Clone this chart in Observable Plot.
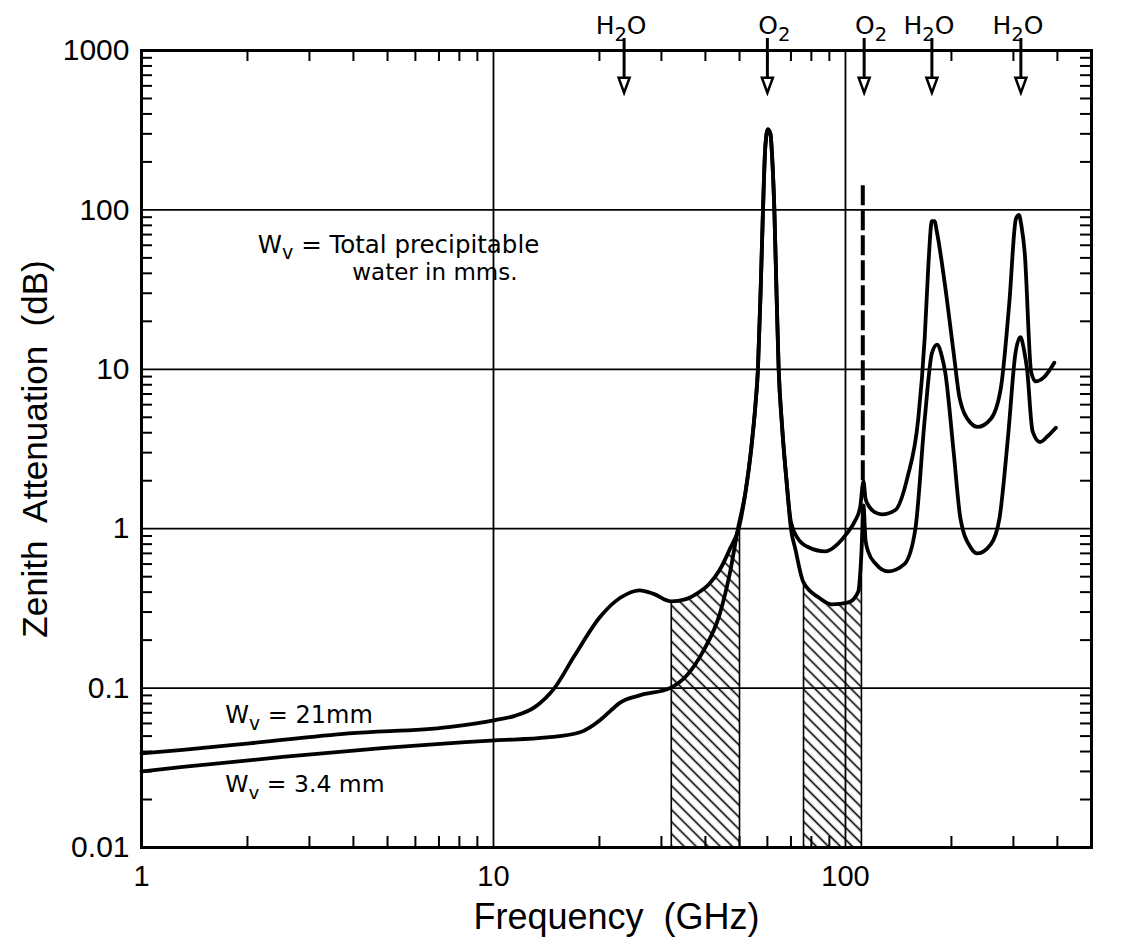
<!DOCTYPE html>
<html>
<head>
<meta charset="utf-8">
<script src="https://cdn.jsdelivr.net/npm/d3@7"></script>
<script src="https://cdn.jsdelivr.net/npm/@observablehq/plot@0.6"></script>
<style>
  body { margin: 0; background: #fff; }
  #chart svg { display: block; }
</style>
</head>
<body>
<div id="chart"></div>
<script>
// ---- Data ----
// W_v = 21 mm curve (frequency GHz, zenith attenuation dB)
const freqWet = [1, 1.31, 2.03, 3.88, 7.44, 10.1, 11.5, 13.1, 14.9, 17, 20.1, 22.2, 24, 26, 28.5, 32, 35, 37.7, 41, 43.9, 47, 50, 52, 54, 55.5, 56.4, 57.5, 58.3, 59.2, 60.2, 61.2, 62, 62.8, 63.7, 64.6, 66, 68, 70, 73, 78, 87.8, 95, 100.4, 106, 110, 112.5, 114, 116, 121, 127, 138.6, 150, 161, 168, 172, 176, 179, 182, 192, 203, 211, 227, 237, 259, 277, 292, 305, 311, 316, 323, 337, 347, 366, 392];
const attWet  = [0.039, 0.041, 0.045, 0.052, 0.057, 0.063, 0.067, 0.076, 0.1, 0.16, 0.28, 0.35, 0.39, 0.41, 0.39, 0.35, 0.36, 0.39, 0.45, 0.55, 0.75, 1.05, 1.7, 3.2, 6, 10, 35, 100, 250, 320, 300, 200, 100, 30, 10, 4.5, 2, 1.1, 0.88, 0.77, 0.72, 0.8, 0.92, 1.1, 1.35, 1.98, 1.55, 1.41, 1.27, 1.23, 1.31, 2.1, 4.9, 16, 45, 85, 85, 72, 33, 12.6, 6.6, 4.6, 4.35, 4.9, 7.9, 26, 88, 93, 80, 54, 9.6, 8.4, 8.9, 11];

// W_v = 3.4 mm curve
const freqDry = [1, 1.31, 2.52, 4.82, 10.1, 14.2, 17.7, 20.1, 21.5, 22.9, 26, 31.7, 35.4, 39.4, 43.9, 46.9, 49.5, 52, 54, 55.5, 56.4, 57.5, 58.3, 59.2, 60.2, 61.2, 62, 62.8, 63.7, 64.6, 66, 68, 70, 72, 76, 84, 91.6, 102, 108.6, 111, 112.5, 114, 116, 122, 132, 147, 158, 168, 176, 182, 188, 192, 203, 212, 227, 237, 259, 274, 290, 304, 314, 322, 328, 340, 357, 375, 396];
const attDry  = [0.03, 0.032, 0.037, 0.042, 0.047, 0.049, 0.053, 0.063, 0.072, 0.081, 0.09, 0.1, 0.12, 0.17, 0.29, 0.52, 1.0, 1.7, 3.2, 6, 10, 35, 100, 250, 320, 300, 200, 100, 30, 10, 4.5, 2, 1.0, 0.75, 0.46, 0.37, 0.335, 0.345, 0.40, 0.7, 1.4, 0.85, 0.72, 0.6, 0.54, 0.6, 1.0, 4.9, 12.6, 14.3, 12, 9.6, 3.0, 1.17, 0.76, 0.70, 0.8, 1.17, 3.9, 12.6, 15.9, 13, 10, 4.1, 3.5, 3.8, 4.3];

// Hatched windows: start/end frequency and the curve bounding them
const windowStart = [32, 76];
const windowEnd   = [50, 111];
const windowCurve = ["wet", "dry"];

// Absorption lines marked at the top
const lineFreqs  = [23.5, 60, 113, 176, 315];
const lineLabels = ["H_2O", "O_2", "O_2", "H_2O", "H_2O"];

// Narrow O2 line drawn dashed (frequency, dB extent)
const narrowLineFreq = [112];
const narrowLineLow = 2.0, narrowLineHigh = 145;

// Axes
const xTicks = [1, 10, 100, 500];
const xTickLabels = ["1", "10", "100", "500"];
const yTicks = [0.01, 0.1, 1, 10, 100, 1000];
const yTickLabels = ["0.01", "0.1", "1", "10", "100", "1000"];
const xGrid = [10, 100];
const yGrid = [0.1, 1, 10, 100];

// Text
const seriesLabels = ["W_v = 21mm", "W_v = 3.4 mm"];
const noteLines = ["W_v = Total precipitable", "water in mms."];
const xTitle = "Frequency\u00a0 (GHz)";
const yTitle = "Zenith\u00a0 Attenuation\u00a0 (dB)";

// ---- Build tables ----
const wet = freqWet.map((f, i) => ({f, v: attWet[i]}));
const dry = freqDry.map((f, i) => ({f, v: attDry[i]}));
const curves = {wet, dry};
const windowsData = windowStart.map((a, i) => {
  const c = curves[windowCurve[i]];
  return c.filter(d => d.f >= a && d.f <= windowEnd[i]);
});
const windowEdges = windowsData.flatMap(w => [w[0], w[w.length - 1]]);
const lines = lineFreqs.map((f, i) => ({f, label: lineLabels[i]}));

const minorX = [];
for (const d of [1, 10, 100]) for (let k = 2; k <= 9; k++) if (k * d < 500) minorX.push(k * d);
const minorY = [];
for (const d of [0.01, 0.1, 1, 10, 100]) for (let k = 2; k <= 9; k++) minorY.push(+(k * d).toPrecision(3));

const W = 1138, H = 938;
const mL = 141, mR = 47, mT = 50, mB = 91;
const innerW = W - mL - mR, innerH = H - mT - mB;
const tickLen = 11;
const font = "'Liberation Sans', Arial, sans-serif";
const noteFont = "'DejaVu Sans', sans-serif";

const triDown = {
  draw(ctx, size) {
    const s = Math.sqrt(size);
    const h = s * 1.7, w = s * 0.62;
    ctx.moveTo(-w, -h * 0.45);
    ctx.lineTo(w, -h * 0.45);
    ctx.lineTo(0, h * 0.55);
    ctx.closePath();
  }
};

const svg = Plot.plot({
  width: W, height: H,
  marginLeft: mL, marginRight: mR, marginTop: mT, marginBottom: mB,
  style: {fontFamily: font, color: "black", background: "white"},
  x: {type: "log", domain: [1, 500]},
  y: {type: "log", domain: [0.01, 1000]},
  marks: [
    // hatched windows
    ...windowsData.map(w => Plot.areaY(w, {x: "f", y1: 0.01, y2: "v", fill: "url(#hatch)", curve: "monotone-x"})),
    Plot.ruleX(windowEdges, {x: "f", y1: 0.01, y2: "v", stroke: "black", strokeWidth: 1.6}),
    // grid
    Plot.ruleY(yGrid, {stroke: "black", strokeWidth: 1.8}),
    Plot.ruleX(xGrid, {stroke: "black", strokeWidth: 1.8}),
    // inward minor ticks on all four sides
    Plot.ruleY(minorY, {insetRight: innerW - tickLen, stroke: "black", strokeWidth: 2}),
    Plot.ruleY(minorY, {insetLeft: innerW - tickLen, stroke: "black", strokeWidth: 2}),
    Plot.ruleX(minorX, {insetBottom: innerH - tickLen, stroke: "black", strokeWidth: 2}),
    Plot.ruleX(minorX, {insetTop: innerH - tickLen, stroke: "black", strokeWidth: 2}),
    // narrow O2 line (dashed)
    Plot.ruleX(narrowLineFreq, {y1: narrowLineLow, y2: narrowLineHigh, stroke: "black", strokeWidth: 4, strokeDasharray: "20,5"}),
    // curves
    Plot.lineY(wet, {x: "f", y: "v", stroke: "black", strokeWidth: 3.8, curve: "monotone-x"}),
    Plot.lineY(dry, {x: "f", y: "v", stroke: "black", strokeWidth: 3.8, curve: "monotone-x"}),
    Plot.frame({stroke: "black", strokeWidth: 3}),
    // axes
    Plot.axisX({ticks: xTicks, tickFormat: d => xTickLabels[xTicks.indexOf(d)], tickSize: 0, tickPadding: 18, fontSize: 29, label: null}),
    Plot.axisY({ticks: yTicks, tickFormat: d => yTickLabels[yTicks.indexOf(d)], tickSize: 0, tickPadding: 12, fontSize: 30, label: null}),
    // absorption line arrows
    Plot.ruleX(lines, {x: "f", insetTop: -12, insetBottom: innerH - 34, stroke: "black", strokeWidth: 3}),
    Plot.dot(lines, {x: "f", frameAnchor: "top", dy: 34, symbol: triDown, r: 5, fill: "white", stroke: "black", strokeWidth: 2.5}),
    Plot.text(lines.filter(d => d.label.startsWith("H")), {x: "f", text: "label", frameAnchor: "top", lineAnchor: "middle", textAnchor: "middle", dy: -25, dx: -3, fontSize: 25, fontFamily: noteFont}),
    Plot.text(lines.filter(d => d.label.startsWith("O")), {x: "f", text: "label", frameAnchor: "top", lineAnchor: "middle", textAnchor: "middle", dy: -25, dx: 7, fontSize: 25, fontFamily: noteFont}),
    // annotations
    Plot.text([noteLines[0]], {x: 2.14, y: 60.5, text: d => d, textAnchor: "start", lineAnchor: "middle", fontSize: 24.5, fontFamily: noteFont}),
    Plot.text([noteLines[1]], {x: 3.97, y: 40.5, text: d => d, textAnchor: "start", lineAnchor: "middle", fontSize: 23, fontFamily: noteFont}),
    Plot.text([seriesLabels[0]], {x: 1.73, y: 0.0673, text: d => d, textAnchor: "start", lineAnchor: "middle", fontSize: 24, fontFamily: noteFont}),
    Plot.text([seriesLabels[1]], {x: 1.73, y: 0.0248, text: d => d, textAnchor: "start", lineAnchor: "middle", fontSize: 23.5, fontFamily: noteFont}),
    // axis titles
    Plot.text([xTitle], {frameAnchor: "bottom", dy: 70, lineAnchor: "middle", textAnchor: "middle", text: d => d, fontSize: 36}),
    Plot.text([yTitle], {frameAnchor: "left", dx: -106, rotate: -90, lineAnchor: "middle", textAnchor: "middle", text: d => d, fontSize: 35})
  ]
});

// hatch pattern
const ns = "http://www.w3.org/2000/svg";
const defs = document.createElementNS(ns, "defs");
defs.innerHTML = '<pattern id="hatch" patternUnits="userSpaceOnUse" width="8.5" height="8.5" patternTransform="rotate(-45)"><rect width="8.5" height="8.5" fill="white"/><line x1="4.25" y1="-1" x2="4.25" y2="9.5" stroke="black" stroke-width="1.6"/></pattern>';
svg.insertBefore(defs, svg.firstChild);

document.getElementById("chart").appendChild(svg);

// subscripts (real text, using tspans)
svg.querySelectorAll("text").forEach(t => {
  const s = t.textContent;
  if (!s.includes("_")) return;
  const fs = parseFloat(getComputedStyle(t).fontSize) || 24;
  const shift = fs * 0.28;
  const parts = s.split(/_(.)/);
  while (t.firstChild) t.removeChild(t.firstChild);
  parts.forEach((p, i) => {
    if (p === "") return;
    const ts = document.createElementNS(ns, "tspan");
    ts.textContent = p;
    if (i % 2 === 1) { ts.setAttribute("font-size", fs * 0.78); ts.setAttribute("dy", shift); }
    else if (i > 0) ts.setAttribute("dy", -shift);
    t.appendChild(ts);
  });
});
</script>
</body>
</html>
